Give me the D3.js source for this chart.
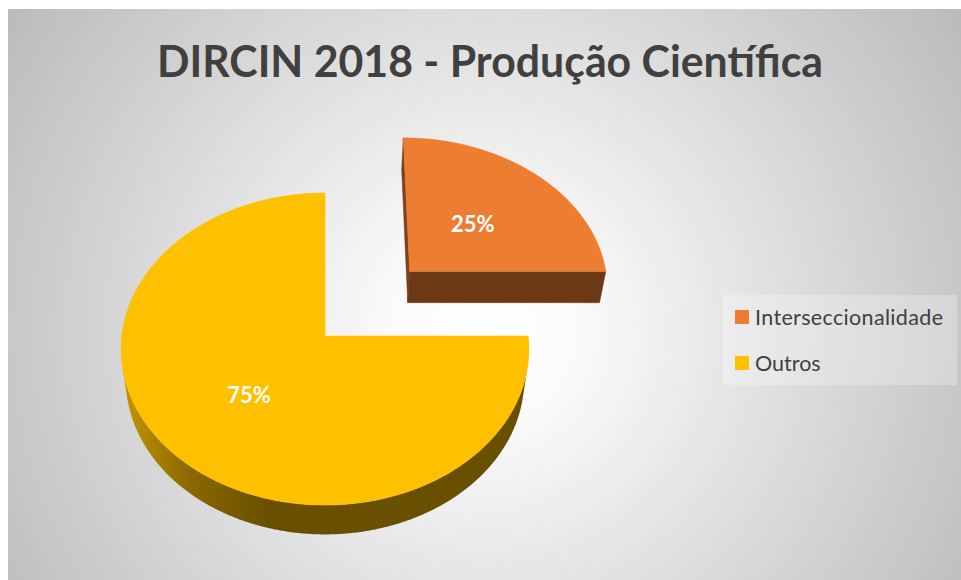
<!DOCTYPE html>
<html>
<head>
<meta charset="utf-8">
<script src="https://d3js.org/d3.v7.min.js"></script>
<style>
body { margin: 0; background: #fff; }
svg { display: block; }
text { font-family: Lato, "Open Sans", sans-serif; }
</style>
</head>
<body>
<div id="container"></div>
<script>
// data
var title = "DIRCIN 2018 - Produção Científica";
var categories = ["Interseccionalidade", "Outros"];
var values = [25, 75];
var colors = ["#ED7D31", "#FFC000"];
var explode = [0.61, 0];   // how far each slice is pulled out (in radii)

var width = 961, height = 580;
var frame = {x: 8, y: 9};

// 3d view of the pie: tilt, perspective, thickness
var view = {cx: 325, cy: 336, F: 1575, D: 7.75, tilt: 49.7 * Math.PI / 180, depth: 0.24};
var sn = Math.sin(view.tilt), cs = Math.cos(view.tilt);

function proj(u, v, h) {
  var z = view.D + v * cs - h * sn;
  return [view.cx + view.F * u / z, view.cy - view.F * (v * sn + h * cs) / z];
}

var color = d3.scaleOrdinal().domain(categories).range(colors);
var pie = d3.pie().sort(null).value(d => d)(values);

var svg = d3.select("#container").append("svg")
  .attr("width", width).attr("height", height);

var defs = svg.append("defs");
var bg = defs.append("radialGradient").attr("id", "bg")
  .attr("gradientUnits", "userSpaceOnUse")
  .attr("cx", 484).attr("cy", 330).attr("r", 580);
bg.append("stop").attr("offset", 0).attr("stop-color", "#ffffff");
bg.append("stop").attr("offset", 0.15).attr("stop-color", "#fbfbfb");
bg.append("stop").attr("offset", 1).attr("stop-color", "#bababa");

svg.append("rect")
  .attr("x", frame.x).attr("y", frame.y)
  .attr("width", width - frame.x).attr("height", height - frame.y)
  .attr("fill", "url(#bg)");

var line = d3.line();
var camU = 0, camV = -view.D * cs;

pie.forEach(function(d, i) {
  var mid = (d.startAngle + d.endAngle) / 2;
  var ou = Math.sin(mid) * explode[i], ov = Math.cos(mid) * explode[i];
  var base = d3.color(color(categories[i]));
  var g = svg.append("g").attr("class", "slice");

  function pt(a, r, h) {
    return proj(ou + r * Math.sin(a), ov + r * Math.cos(a), h);
  }

  // cut faces
  [[d.startAngle, -1], [d.endAngle, 1]].forEach(function(e) {
    var a = e[0];
    var nu = e[1] * Math.cos(a), nv = -e[1] * Math.sin(a);
    var vis = (camU - ou) * nu + (camV - ov) * nv;
    if (vis <= 0.01) return;
    var pts = [pt(a, 0, 0), pt(a, 1, 0), pt(a, 1, -view.depth), pt(a, 0, -view.depth)];
    g.append("path").attr("d", line(pts) + "Z")
      .attr("fill", base.darker(vis < 1 ? 1.8 : 2.2))
      .attr("stroke", base.darker(2.2)).attr("stroke-width", 0.5);
  });

  // outer wall, only the part turned toward the viewer
  var step = Math.PI / 360, run = [];
  for (var a = d.startAngle; a <= d.endAngle + 1e-9; a += step) {
    var pu = Math.sin(a), pv = Math.cos(a);
    var vis = (camU - ou - pu) * pu + (camV - ov - pv) * pv;
    if (vis > 0) run.push(a);
  }
  if (run.length > 1) {
    var top = run.map(a => pt(a, 1, 0));
    var bot = run.slice().reverse().map(a => pt(a, 1, -view.depth));
    var xs = top.map(p => p[0]);
    var x0 = d3.min(xs), x1 = d3.max(xs);
    var gid = "wall" + i;
    var wg = defs.append("linearGradient").attr("id", gid)
      .attr("gradientUnits", "userSpaceOnUse")
      .attr("x1", x0).attr("x2", x0 + (x1 - x0) * 0.36).attr("y1", 0).attr("y2", 0);
    wg.append("stop").attr("offset", 0).attr("stop-color", base.darker(0.72));
    wg.append("stop").attr("offset", 0.45).attr("stop-color", base.darker(1.7));
    wg.append("stop").attr("offset", 1).attr("stop-color", base.darker(2.5));
    g.append("path").attr("d", line(top.concat(bot)) + "Z")
      .attr("fill", "url(#" + gid + ")");
  }

  // top face
  var arc = d3.range(d.startAngle, d.endAngle, step).concat([d.endAngle]).map(a => pt(a, 1, 0));
  g.append("path").attr("d", line([pt(0, 0, 0)].concat(arc)) + "Z")
    .attr("fill", base).attr("stroke", base).attr("stroke-width", 0.5);

  // value label
  var lp = pt(mid, 0.5, 0);
  g.append("text")
    .attr("x", lp[0] - 2).attr("y", lp[1] + 2)
    .attr("text-anchor", "middle").attr("dominant-baseline", "central")
    .attr("fill", "#fff").attr("font-weight", "bold").attr("font-size", "22px")
    .text(d3.format(".0%")(d.value / d3.sum(values)));
});

// title
svg.append("text")
  .attr("x", 490).attr("y", 77)
  .attr("text-anchor", "middle")
  .attr("font-size", "44px").attr("font-weight", "bold")
  .attr("fill", "#404040")
  .attr("textLength", 666).attr("lengthAdjust", "spacingAndGlyphs")
  .text(title);

// legend
var legend = svg.append("g").attr("id", "legend");
legend.append("rect")
  .attr("x", 723).attr("y", 295).attr("width", 234).attr("height", 90)
  .attr("fill", "#fff").attr("fill-opacity", 0.25);

var item = legend.selectAll(".item").data(categories).enter()
  .append("g").attr("class", "item")
  .attr("transform", (d, i) => "translate(735," + (310 + i * 46) + ")");
item.append("rect")
  .attr("width", 14).attr("height", 14)
  .attr("fill", d => color(d));
item.append("text")
  .attr("x", 20).attr("y", 7)
  .attr("dominant-baseline", "central")
  .attr("font-size", "21.5px").attr("fill", "#404040")
  .attr("textLength", (d, i) => i === 0 ? 188 : null)
  .text(d => d);
</script>
</body>
</html>
